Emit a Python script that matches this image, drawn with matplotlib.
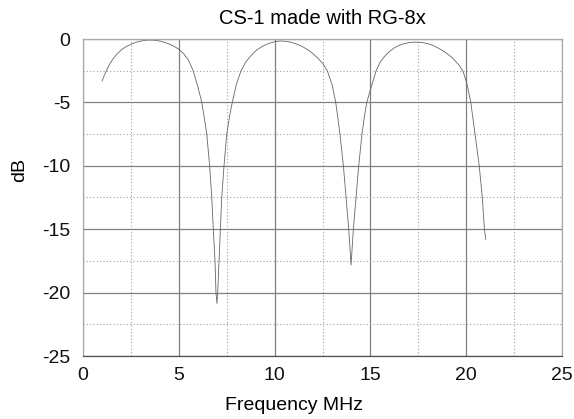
import matplotlib
matplotlib.use("Agg")
import matplotlib.pyplot as plt

freq_mhz = [1.0, 1.1, 1.25, 1.4, 1.6, 1.8, 2.0, 2.25, 2.5, 2.75, 3.0, 3.25, 3.5, 3.75,
            4.0, 4.25, 4.5, 4.75, 5.0, 5.25, 5.5, 5.75,
            6.0, 6.2, 6.35, 6.46, 6.61, 6.72, 6.80, 6.89, 6.94, 6.99,
            7.03, 7.10, 7.17, 7.24, 7.36, 7.50, 7.65, 7.79, 8.0, 8.25, 8.5, 8.75,
            9.0, 9.25, 9.5, 9.75, 10.0, 10.25, 10.5, 10.75, 11.0, 11.25, 11.5, 11.75,
            12.0, 12.25, 12.5, 12.75,
            13.0, 13.19, 13.3, 13.41, 13.59, 13.73, 13.87, 13.99,
            14.11, 14.25, 14.39, 14.56, 14.70, 14.81, 15.0, 15.3, 15.5, 15.75,
            16.0, 16.25, 16.5, 16.75, 17.0, 17.25, 17.5, 17.75, 18.0, 18.25, 18.5, 18.75,
            19.0, 19.25, 19.5, 19.65, 19.85,
            20.05, 20.24, 20.46, 20.68, 20.84, 20.95, 21.02]
loss_db = [-3.3, -2.9, -2.4, -1.95, -1.5, -1.15, -0.85, -0.6, -0.42, -0.27, -0.17, -0.1, -0.08, -0.1,
           -0.16, -0.26, -0.4, -0.58, -0.8, -1.15, -1.65, -2.5,
           -3.8, -5.0, -6.4, -7.5, -10.0, -12.5, -15.0, -17.5, -20.0, -20.85,
           -20.0, -17.5, -15.0, -12.5, -10.0, -7.5, -6.1, -5.0, -3.6, -2.5, -1.8, -1.35,
           -0.95, -0.68, -0.47, -0.32, -0.22, -0.16, -0.17, -0.22, -0.32, -0.46, -0.64, -0.87,
           -1.15, -1.5, -1.9, -2.5,
           -3.6, -5.0, -6.2, -7.5, -10.0, -12.5, -15.0, -17.82,
           -15.0, -12.5, -10.0, -7.5, -6.0, -5.0, -4.0, -2.5, -1.85, -1.35,
           -0.98, -0.7, -0.5, -0.37, -0.29, -0.25, -0.25, -0.29, -0.37, -0.5, -0.68, -0.9,
           -1.15, -1.45, -1.85, -2.1, -2.6,
           -3.6, -5.0, -7.5, -10.0, -12.5, -15.0, -15.8]

title_text = "CS-1 made with RG-8x"
x_label = "Frequency MHz"
y_label = "dB"
x_ticks = [0, 5, 10, 15, 20, 25]
y_ticks = [0, -5, -10, -15, -20, -25]

plt.rcParams['font.family'] = ['Liberation Sans', 'DejaVu Sans']
plt.rcParams['axes.unicode_minus'] = False

fig = plt.figure(figsize=(5.74, 4.19), dpi=100)
ax = fig.add_axes([83/574, 1-356/419, (562-83)/574, (356-39)/419])

ax.set_xlim(0, 25)
ax.set_ylim(-25, 0)
ax.set_xticks(x_ticks)
ax.set_yticks(y_ticks)
ax.set_xticks([2.5, 7.5, 12.5, 17.5, 22.5], minor=True)
ax.set_yticks([-2.5, -7.5, -12.5, -17.5, -22.5], minor=True)
ax.grid(which='major', color='#808080', linewidth=0.9, linestyle='-')
ax.grid(which='minor', color='#a0a0a0', linewidth=0.8, linestyle=(0, (1, 2)))
ax.set_axisbelow(True)
ax.tick_params(which='both', length=0, labelsize=14, colors='#111111')
ax.tick_params(axis='x', pad=8)
ax.tick_params(axis='y', pad=9)

for side in ['top', 'right', 'left']:
    ax.spines[side].set_color('#a8a8a8')
ax.spines['bottom'].set_color('#505050')
for s in ax.spines.values():
    s.set_linewidth(0.9)

ax.plot(freq_mhz, loss_db, color='#666666', linewidth=0.6)

ax.set_title(title_text, fontsize=14.5, pad=11)
ax.set_xlabel(x_label, fontsize=14)
ax.set_ylabel(y_label, fontsize=14)
ax.xaxis.set_label_coords(0.44, -0.155)
ax.yaxis.set_label_coords(-0.1315, 0.587)
ax.xaxis.label.set_verticalalignment('center')
ax.yaxis.label.set_verticalalignment('center')

fig.savefig("out.png", dpi=100)
